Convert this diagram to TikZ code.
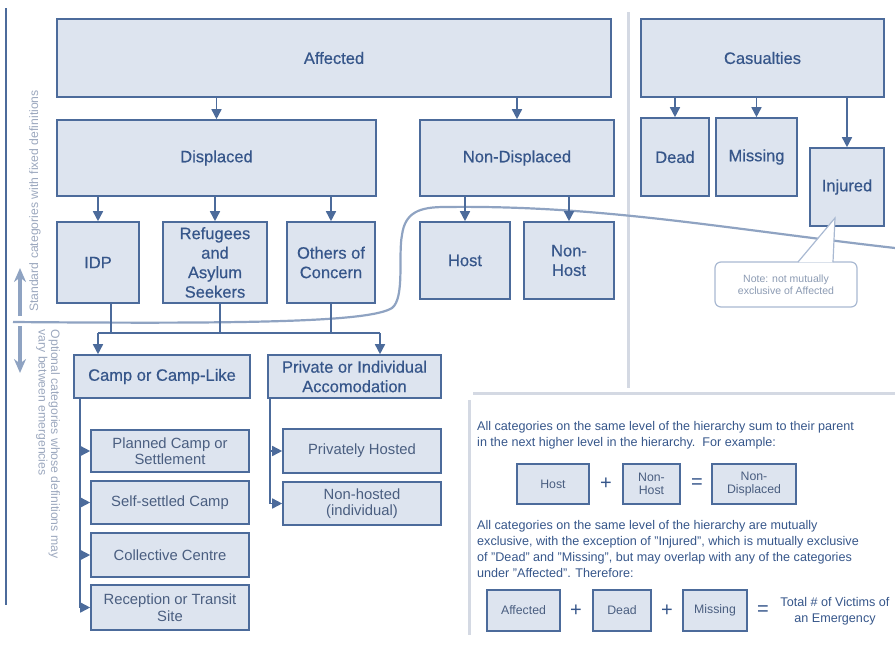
\documentclass[tikz,border=0pt]{standalone}
\usepackage{fontspec}
\setmainfont{Liberation Sans}
\newfontfamily\catfont{Liberation Sans}[FakeBold=0.5]
\usetikzlibrary{arrows.meta,calc}

\definecolor{boxfill}{HTML}{DDE4EF}
\definecolor{boxline}{HTML}{4C6B9B}
\definecolor{boxtext}{HTML}{36568A}
\definecolor{subtext}{HTML}{4A5E80}
\definecolor{softline}{HTML}{8FA3C2}
\definecolor{divider}{HTML}{D4D9E3}
\definecolor{notetext}{HTML}{8C9BB3}
\definecolor{notebord}{HTML}{A9B9D2}
\definecolor{sidetext}{HTML}{9CA8BE}

\tikzset{
  cat/.style={draw=boxline, fill=boxfill, line width=1.6pt, align=center, inner sep=0pt,
    text=boxtext, font=\catfont\fontsize{16.5}{19.5}\selectfont},
  subcat/.style={cat, text=subtext, font=\fontsize{14.8}{16.5}\selectfont},
  legbox/.style={cat, line width=1.4pt, text=subtext, font=\fontsize{12.3}{13.5}\selectfont},
  legtext/.style={align=left, inner sep=0pt, text=boxtext, font=\fontsize{12.6}{16}\selectfont},
  sign/.style={inner sep=0pt, text=boxtext, font=\fontsize{20}{20}\selectfont},
  conn/.style={draw=boxline, line width=1.6pt, -{Triangle[length=10pt,width=10pt]}},
  link/.style={draw=boxline, line width=1.6pt},
  sidelabel/.style={inner sep=0pt, text=sidetext, font=\fontsize{12.2}{12.5}\selectfont},
  sidearrow/.style={draw=softline, line width=3.5pt, -{Stealth[length=14pt,width=12pt]}},
  note/.style={draw=notebord, fill=white, rounded corners=6pt, line width=1.2pt, align=center,
    inner sep=0pt, text=notetext, font=\fontsize{10.5}{12.5}\selectfont},
}

\begin{document}
\begin{tikzpicture}[x=1pt, y=-1pt]
  \useasboundingbox (0,0) rectangle (895,648);

  % frame and dividers
  \draw[boxline, line width=1.4pt] (6,8) -- (6,605);
  \draw[divider, line width=3pt] (628,12) -- (628,388);
  \draw[divider, line width=3pt] (473,393) -- (895,393);
  \draw[divider, line width=3pt] (469,400) -- (469,635);

  % standard / optional boundary
  \draw[softline, line width=2.2pt] (13,322) .. controls (250,324) and (370,322) .. (392,308)
    .. controls (405,298) and (398,255) .. (402,235)
    .. controls (405,212) and (420,207) .. (445,207)
    .. controls (600,205) and (720,228) .. (895,248);
  \draw[sidearrow] (20,316) -- (20,268);
  \draw[sidearrow] (20,326) -- (20,373);
  \node[sidelabel, rotate=90] (std) at (35,201) {Standard categories with fixed definitions};
  \node[sidelabel, rotate=-90, align=left] (opt) at (48,444) {Optional categories whose definitions may\\vary between emergencies};

  % standard categories
  \node[cat, minimum width=554, minimum height=78] (affected) at (334,58) {Affected};
  \node[cat, minimum width=243, minimum height=78] (casualties) at (762.5,58) {Casualties};
  \node[cat, minimum width=319, minimum height=76] (displaced) at (216.5,158) {Displaced};
  \node[cat, minimum width=194, minimum height=76] (nondisp) at (517,158) {Non-Displaced};
  \node[cat, minimum width=68, minimum height=78] (dead) at (675,157) {Dead};
  \node[cat, minimum width=81, minimum height=78] (missing) at (756.5,157) {Missing};
  \node[cat, minimum width=74, minimum height=78] (injured) at (847,187) {Injured};
  \node[cat, minimum width=82, minimum height=81] (idp) at (98,262.5) {IDP};
  \node[cat, minimum width=104, minimum height=81] (refugees) at (215,262.5) {Refugees\\and\\Asylum\\Seekers};
  \node[cat, minimum width=88, minimum height=81] (others) at (331,262.5) {Others of\\Concern};
  \node[cat, minimum width=90, minimum height=77] (host) at (465,260.5) {Host};
  \node[cat, minimum width=90, minimum height=77] (nonhost) at (569,260.5) {Non-\\Host};

  \draw[conn] (affected.south -| displaced.north) -- (displaced.north);
  \draw[conn] (affected.south -| nondisp.north) -- (nondisp.north);
  \draw[conn] (casualties.south -| dead.north) -- (dead.north);
  \draw[conn] (casualties.south -| missing.north) -- (missing.north);
  \draw[conn] (casualties.south -| injured.north) -- (injured.north);
  \draw[conn] (displaced.south -| idp.north) -- (idp.north);
  \draw[conn] (displaced.south -| refugees.north) -- (refugees.north);
  \draw[conn] (displaced.south -| others.north) -- (others.north);
  \draw[conn] (nondisp.south -| host.north) -- (host.north);
  \draw[conn] (nondisp.south -| nonhost.north) -- (nonhost.north);

  % optional categories
  \node[cat, minimum width=176, minimum height=43] (camp) at (162,376.5) {Camp or Camp-Like};
  \node[cat, minimum width=173, minimum height=43] (private) at (354.5,376.5) {Private or Individual\\Accomodation};
  \node[subcat, minimum width=158, minimum height=42] (planned) at (170,451) {Planned Camp or\\Settlement};
  \node[subcat, minimum width=158, minimum height=43] (selfsettled) at (170,502.5) {Self-settled Camp};
  \node[subcat, minimum width=158, minimum height=44] (collective) at (170,555) {Collective Centre};
  \node[subcat, minimum width=158, minimum height=45] (reception) at (170,607.5) {Reception or Transit\\Site};
  \node[subcat, minimum width=158, minimum height=44] (privhosted) at (362,451) {Privately Hosted};
  \node[subcat, minimum width=158, minimum height=43] (nonhosted) at (362,503.5) {Non-hosted\\(individual)};

  \coordinate (bus) at (98,333);
  \coordinate (busend) at (380,333);
  \coordinate (idpdrop) at ($(idp.south)+(13,0)$);
  \coordinate (refdrop) at ($(refugees.south)+(5,0)$);
  \draw[link] (idpdrop) -- (idpdrop |- bus);
  \draw[link] (refdrop) -- (refdrop |- bus);
  \draw[link] (others.south) -- (others.south |- bus);
  \draw[link] (bus) -- (busend);
  \draw[conn] (bus) -- (bus |- camp.north);
  \draw[conn] (busend) -- (busend |- private.north);

  \coordinate (campline) at (80,398);
  \draw[link] (campline) -- (campline |- reception.west);
  \draw[conn] (campline |- planned.west) -- (planned.west);
  \draw[conn] (campline |- selfsettled.west) -- (selfsettled.west);
  \draw[conn] (campline |- collective.west) -- (collective.west);
  \draw[conn] (campline |- reception.west) -- (reception.west);

  \coordinate (privline) at (270,398);
  \draw[link] (privline) -- (privline |- nonhosted.west);
  \draw[conn] (privline |- privhosted.west) -- (privhosted.west);
  \draw[conn] (privline |- nonhosted.west) -- (nonhosted.west);

  % note on injured
  \node[note, minimum width=142, minimum height=45] (note) at (786,284.5) {Note: not mutually\\exclusive of Affected};
  \coordinate (tip) at (835,218);
  \fill[white] ($(note.north)+(12.5,1)$) -- (tip) -- ($(note.north)+(46.5,1)$) -- cycle;
  \draw[notebord, line width=1.2pt] ($(note.north)+(12,0.6)$) -- (tip) -- ($(note.north)+(47,0.6)$);

  % legend
  \node[legtext, anchor=north west] (rule1) at (477,421) {All categories on the same level of the hierarchy sum to their parent\\in the next higher level in the hierarchy.\ \ For example:};
  \node[legbox, minimum width=72, minimum height=40] (lhost) at (553,484) {Host};
  \node[sign] (plus1) at (606,484) {+};
  \node[legbox, minimum width=57, minimum height=40] (lnonhost) at (651.5,484) {Non-\\Host};
  \node[sign] (eq1) at (697,484) {=};
  \node[legbox, minimum width=84, minimum height=40] (lnondisp) at (754,484) {Non-\\Displaced};

  \node[legtext, anchor=north west] (rule2) at (477,520) {All categories on the same level of the hierarchy are mutually\\exclusive, with the exception of "Injured", which is mutually exclusive\\of "Dead" and "Missing", but may overlap with any of the categories\\under "Affected". Therefore:};
  \node[legbox, minimum width=73, minimum height=41] (laffected) at (523.5,610.5) {Affected};
  \node[sign] (plus2) at (576,610.5) {+};
  \node[legbox, minimum width=58, minimum height=41] (ldead) at (622,610.5) {Dead};
  \node[sign] (plus3) at (667,610.5) {+};
  \node[legbox, minimum width=64, minimum height=41] (lmissing) at (715,610.5) {Missing};
  \node[sign] (eq2) at (763,610.5) {=};
  \node[legtext, align=center] (total) at (835,611) {Total \# of Victims of\\an Emergency};
\end{tikzpicture}
\end{document}
